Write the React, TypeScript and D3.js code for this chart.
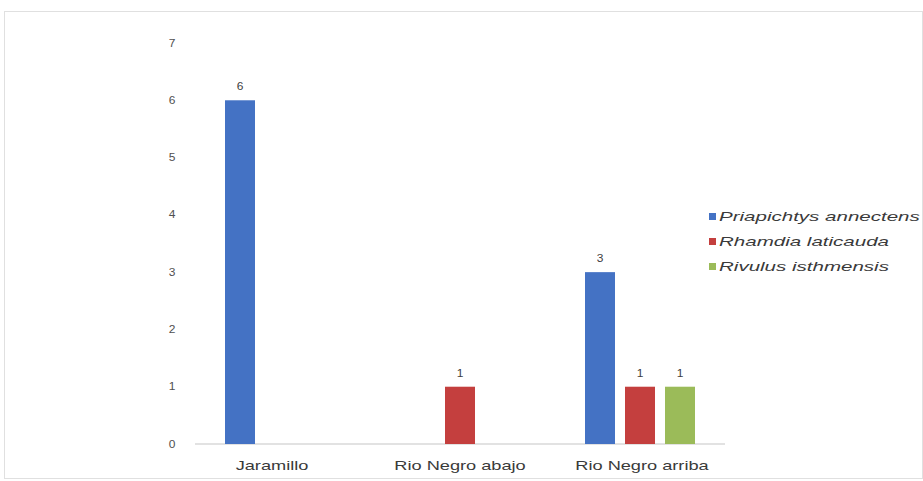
import React from "react";
import * as d3 from "d3";

const categories = ["Jaramillo", "Rio Negro abajo", "Rio Negro arriba"];
const seriesNames = ["Priapichtys annectens", "Rhamdia laticauda", "Rivulus isthmensis"];
const priapichtys = [6, 0, 3];
const rhamdia = [0, 1, 1];
const rivulus = [0, 0, 1];
const yTicks = [0, 1, 2, 3, 4, 5, 6, 7];
const colors = ["#4472c4", "#c43f3e", "#9bbb59"];

const FONT = "Liberation Sans, Arial, sans-serif";

export default function App() {
  const W = 923, H = 481;
  const series = [priapichtys, rhamdia, rivulus];
  const x = d3.scaleBand<string>().domain(categories).range([190, 730]).paddingInner(0).paddingOuter(0);
  const y = d3.scaleLinear().domain([0, 7]).range([444, 43]);
  const barW = 30, gap = 10;
  const groupW = barW * 3 + gap * 2;
  return (
    <svg width={W} height={H} style={{ position: "absolute", left: 0, top: 0, background: "#fff" }}>
      <rect x={4.5} y={11.5} width={W - 5} height={H - 14} fill="#fff" stroke="#e0e0e0" />
      {yTicks.map(t => (
        <text key={t} transform={`translate(172,${y(t)}) scale(1.2,1)`} dy="0.35em" textAnchor="middle" fontSize={10} fill="#505050" fontFamily={FONT}>{t}</text>
      ))}
      <line x1={195} x2={725} y1={y(0)} y2={y(0)} stroke="#d9d9d9" strokeWidth={1.5} />
      {categories.map((c, ci) => {
        const cx = x(c)! + x.bandwidth() / 2;
        const x0 = cx - groupW / 2;
        const lx = cx - (ci === 0 ? 8 : 0) + (ci === 2 ? 2 : 0);
        return (
          <g key={c}>
            {series.map((s, si) => {
              const v = s[ci];
              if (!v) return null;
              const bx = x0 + si * (barW + gap);
              return (
                <g key={si}>
                  <rect x={bx} y={y(v)} width={barW} height={y(0) - y(v)} fill={colors[si]} />
                  <text transform={`translate(${bx + barW / 2},${y(v) - 10}) scale(1.2,1)`} textAnchor="middle" fontSize={10} fill="#404040" fontFamily={FONT}>{v}</text>
                </g>
              );
            })}
            <text transform={`translate(${lx},470) scale(1.4,1)`} textAnchor="middle" fontSize={13} fill="#3a3a3a" fontFamily={FONT}>{c}</text>
          </g>
        );
      })}
      {seriesNames.map((n, i) => (
        <g key={n}>
          <rect x={709} y={213 + i * 25} width={7} height={7} fill={colors[i]} />
          <text transform={`translate(719,${216.5 + i * 25}) scale(1.58,1)`} dy="0.35em" fontSize={13} fontStyle="italic" fill="#3a3a3a" fontFamily={FONT}>{n}</text>
        </g>
      ))}
    </svg>
  );
}
